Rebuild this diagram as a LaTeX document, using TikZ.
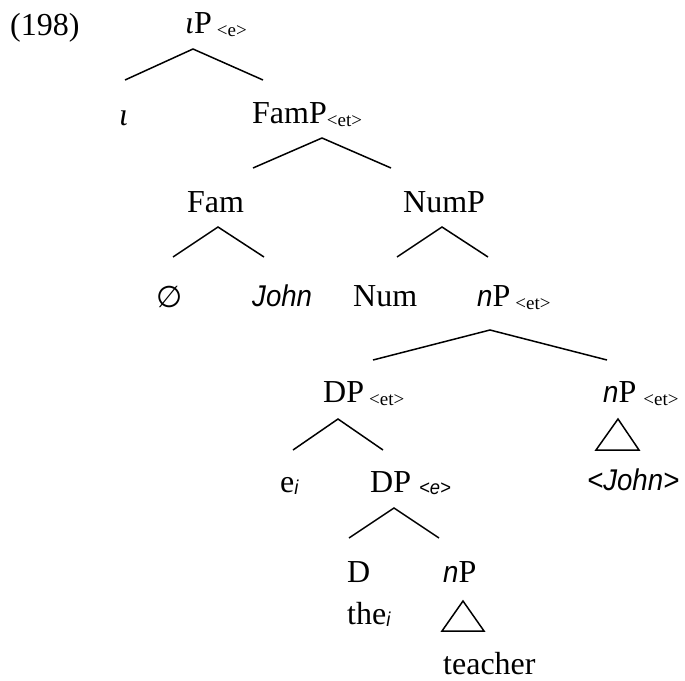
\documentclass[tikz,border=0pt]{standalone}
\usepackage{fontspec}
\setmainfont{Liberation Serif}
\newfontfamily\jsans{Liberation Sans}[FakeStretch=0.92]
\newfontfamily\symf{DejaVu Sans}
\newcommand{\js}[1]{{\fontsize{30}{34}\selectfont\jsans\itshape #1}}
\newcommand{\subt}[1]{\raisebox{-3pt}{\fontsize{19}{19}\selectfont #1}}
\newcommand{\subi}[1]{\raisebox{-2pt}{\fontsize{20}{20}\selectfont\jsans\itshape #1}}
\begin{document}
\begin{tikzpicture}[x=1pt,y=-1pt,
  lab/.style={inner sep=0pt, anchor=base west, font=\fontsize{32}{36}\selectfont},
  br/.style={line width=1.5pt, line join=miter}]
\useasboundingbox (0,0) rectangle (685,680);
% labels
\node[lab] (n198) at (10,35) {(198)};
\node[lab] (iotaP) at (185,33) {\textit{ι}P\hspace{5pt}\subt{<e>}};
\node[lab] (iota) at (119,125) {\textit{ι}};
\node[lab] (famP) at (252,123) {FamP\subt{<et>}};
\node[lab] (fam) at (187,212) {Fam};
\node[lab] (numP) at (403,212) {NumP};
\node[lab] (empty) at (156,307) {{\fontsize{30}{32}\selectfont\symf ∅}};
\node[lab] (john) at (252,306) {\js{John}};
\node[lab] (num) at (353,306) {Num};
\node[lab] (nP1) at (477,306) {\js{n}P\hspace{5pt}\subt{<et>}};
\node[lab] (dp1) at (323,402) {DP\hspace{5pt}\subt{<et>}};
\node[lab] (nP2) at (603,402) {\js{n}P\hspace{7pt}\subt{<et>}};
\node[lab] (ei) at (280,492) {e\subi{i}};
\node[lab] (dp2) at (370,492) {DP\hspace{8pt}\subi{<e>}};
\node[lab] (john2) at (587,490) {\js{<John>}};
\node[lab] (d) at (347,582) {D};
\node[lab] (nP3) at (443,582) {\js{n}P};
\node[lab] (the) at (347,624) {the\subi{i}};
\node[lab] (teacher) at (443,674) {teacher};
% branch points
\coordinate (a1) at (193,49);  \coordinate (l1) at (125,80);  \coordinate (r1) at (263,80);
\coordinate (a2) at (322,138); \coordinate (l2) at (253,168); \coordinate (r2) at (391,168);
\coordinate (a3) at (218,227); \coordinate (l3) at (173,257); \coordinate (r3) at (264,257);
\coordinate (a4) at (442,227); \coordinate (l4) at (397,257); \coordinate (r4) at (488,257);
\coordinate (a5) at (490,330); \coordinate (l5) at (373,360); \coordinate (r5) at (607,360);
\coordinate (a6) at (338,419); \coordinate (l6) at (293,450); \coordinate (r6) at (383,450);
\coordinate (a7) at (394,508); \coordinate (l7) at (349,538); \coordinate (r7) at (439,538);
\coordinate (t1a) at (618,419); \coordinate (t1l) at (596,450); \coordinate (t1r) at (639,450);
\coordinate (t2a) at (463,601); \coordinate (t2l) at (442,631); \coordinate (t2r) at (484,631);
\draw[br] (l1) -- (a1) -- (r1);
\draw[br] (l2) -- (a2) -- (r2);
\draw[br] (l3) -- (a3) -- (r3);
\draw[br] (l4) -- (a4) -- (r4);
\draw[br] (l5) -- (a5) -- (r5);
\draw[br] (l6) -- (a6) -- (r6);
\draw[br] (l7) -- (a7) -- (r7);
\draw[br] (t1a) -- (t1l) -- (t1r) -- cycle;
\draw[br] (t2a) -- (t2l) -- (t2r) -- cycle;
\end{tikzpicture}
\end{document}
